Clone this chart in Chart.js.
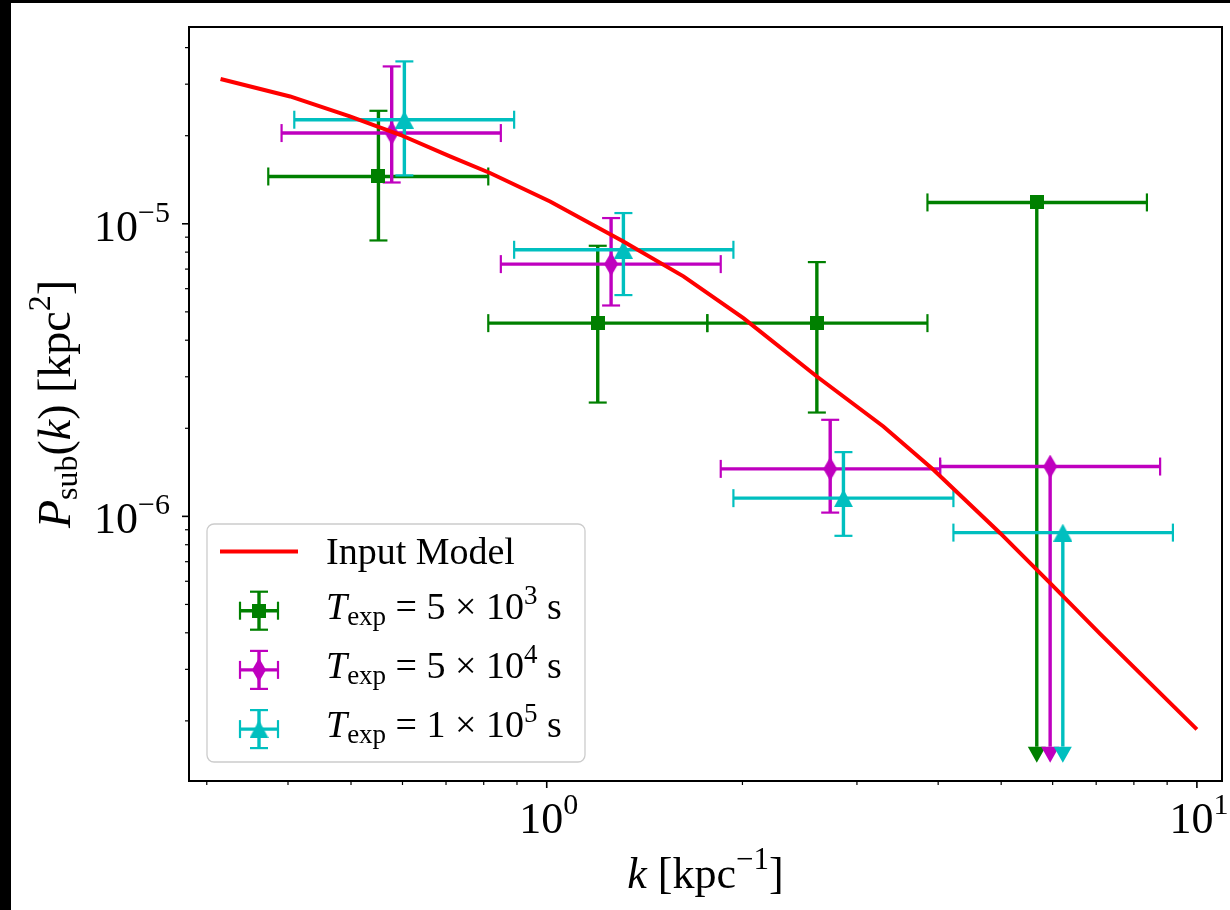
<!DOCTYPE html>
<html lang="en">
<head>
  <meta charset="UTF-8">
  <title>Subhalo power spectrum</title>
  <script src="https://cdn.jsdelivr.net/npm/chart.js@4.4.1/dist/chart.umd.min.js"></script>
  <style>
    html, body { margin: 0; padding: 0; background: #000; overflow: hidden; }
    #frame { position: absolute; left: 11px; top: 3px; width: 1219px; height: 907px; background: #fff; }
  </style>
</head>
<body>
  <div id="frame"><canvas id="psChart"></canvas></div>

  <script>
    // Input model P_sub(k)
    const modelK = [0.315, 0.403, 0.498, 0.595, 0.710, 0.818, 1.012, 1.312, 1.623, 2.007, 2.603, 3.295, 3.934, 4.983, 5.947, 7.099, 10.0];
    const modelP = [3.124e-5, 2.724e-5, 2.327e-5, 2.015e-5, 1.699e-5, 1.491e-5, 1.192e-5, 8.70e-6, 6.61e-6, 4.76e-6, 3.006e-6, 2.028e-6, 1.442e-6, 8.76e-7, 5.91e-7, 3.965e-7, 1.87e-7];

    // T_exp = 5e3 s  (null errors -> upper limit)
    const k5e3   = [0.551, 1.198, 2.603, 5.672];
    const kLo5e3 = [0.373, 0.813, 1.766, 3.851];
    const kHi5e3 = [0.813, 1.766, 3.851, 8.378];
    const p5e3   = [1.451e-5, 4.575e-6, 4.575e-6, 1.183e-5];
    const pLo5e3 = [8.77e-6, 2.449e-6, 2.264e-6, null];
    const pHi5e3 = [2.433e-5, 8.41e-6, 7.396e-6, null];

    // T_exp = 5e4 s
    const k5e4   = [0.5775, 1.256, 2.729, 5.947];
    const kLo5e4 = [0.391, 0.850, 1.852, 4.028];
    const kHi5e4 = [0.850, 1.852, 4.028, 8.779];
    const p5e4   = [2.042e-5, 7.28e-6, 1.453e-6, 1.480e-6];
    const pLo5e4 = [1.384e-5, 5.257e-6, 1.030e-6, null];
    const pHi5e4 = [3.450e-5, 1.046e-5, 2.138e-6, null];

    // T_exp = 1e5 s
    const k1e5   = [0.604, 1.312, 2.860, 6.22];
    const kLo1e5 = [0.409, 0.891, 1.937, 4.222];
    const kHi1e5 = [0.891, 1.937, 4.222, 9.186];
    const p1e5   = [2.268e-5, 8.15e-6, 1.154e-6, 8.80e-7];
    const pLo1e5 = [1.463e-5, 5.706e-6, 8.58e-7, null];
    const pHi1e5 = [3.589e-5, 1.088e-5, 1.658e-6, null];

    // lower end of the upper-limit bars
    const limitFloor = 1.633e-7;

    // axis ticks and limits
    const xMajor = [1, 10];
    const xMajorExp = ['0', '1'];
    const yMajor = [1e-6, 1e-5];
    const yMajorExp = ['\u22126', '\u22125'];
    const xMin = 0.2817, xMax = 10.93;
    const yMin = 1.246e-7, yMax = 4.705e-5;

    const texpMantissa = ['5', '5', '1'];
    const texpPower = ['3', '4', '5'];

    const GREEN = '#008000', MAGENTA = '#bf00bf', CYAN = '#00bfbf', RED = '#ff0000';
    const SERIF = '"Liberation Serif", "DejaVu Serif", serif';
    const BAR_W = 3.4, CAP_W = 2.2;

    function marker(w, h, color, shape) {
      const c = document.createElement('canvas');
      c.width = w; c.height = h;
      const g = c.getContext('2d');
      g.fillStyle = color;
      g.beginPath();
      if (shape === 'square') {
        g.rect(0, 0, w, h);
      } else if (shape === 'diamond') {
        g.moveTo(w / 2, 0); g.lineTo(w, h / 2); g.lineTo(w / 2, h); g.lineTo(0, h / 2);
      } else {
        g.moveTo(w / 2, 0); g.lineTo(w, h); g.lineTo(0, h);
      }
      g.closePath();
      g.fill();
      return c;
    }

    const series = [
      { k: k5e3, kLo: kLo5e3, kHi: kHi5e3, p: p5e3, pLo: pLo5e3, pHi: pHi5e3, color: GREEN, img: marker(14, 14, GREEN, 'square') },
      { k: k5e4, kLo: kLo5e4, kHi: kHi5e4, p: p5e4, pLo: pLo5e4, pHi: pHi5e4, color: MAGENTA, img: marker(14, 24, MAGENTA, 'diamond') },
      { k: k1e5, kLo: kLo1e5, kHi: kHi1e5, p: p1e5, pLo: pLo1e5, pHi: pHi1e5, color: CYAN, img: marker(19, 18, CYAN, 'triangle') }
    ];

    function fontOf(r) {
      return (r.it ? 'italic ' : '') + r.s + 'px ' + SERIF;
    }

    // draws a list of text runs (used for sub/superscripts)
    function drawRuns(ctx, runs, x, y, align) {
      let w = 0;
      for (const r of runs) { ctx.font = fontOf(r); w += ctx.measureText(r.t).width; }
      let cx = align === 'center' ? x - w / 2 : (align === 'right' ? x - w : x);
      ctx.textAlign = 'left';
      ctx.textBaseline = 'alphabetic';
      for (const r of runs) {
        ctx.font = fontOf(r);
        ctx.fillText(r.t, cx, y + (r.dy || 0));
        cx += ctx.measureText(r.t).width;
      }
    }

    function line(ctx, x1, y1, x2, y2) {
      ctx.beginPath(); ctx.moveTo(x1, y1); ctx.lineTo(x2, y2); ctx.stroke();
    }

    function drawDownArrow(ctx, x, y, color) {
      ctx.fillStyle = color;
      ctx.beginPath();
      ctx.moveTo(x - 9, y); ctx.lineTo(x + 9, y); ctx.lineTo(x, y + 16);
      ctx.closePath();
      ctx.fill();
    }

    // x and y error bars, drawn underneath the markers
    const errorBars = {
      id: 'errorBars',
      beforeDatasetsDraw(chart) {
        const { ctx, chartArea: a, scales: { x, y } } = chart;
        ctx.save();
        ctx.beginPath(); ctx.rect(a.left, a.top, a.right - a.left, a.bottom - a.top); ctx.clip();
        for (const s of series) {
          ctx.strokeStyle = s.color;
          for (let i = 0; i < s.k.length; i++) {
            const px = x.getPixelForValue(s.k[i]);
            const py = y.getPixelForValue(s.p[i]);
            const xl = x.getPixelForValue(s.kLo[i]);
            const xh = x.getPixelForValue(s.kHi[i]);
            ctx.lineWidth = BAR_W;
            line(ctx, xl, py, xh, py);
            if (s.pLo[i] !== null) {
              const yl = y.getPixelForValue(s.pLo[i]);
              const yh = y.getPixelForValue(s.pHi[i]);
              line(ctx, px, yl, px, yh);
              ctx.lineWidth = CAP_W;
              line(ctx, px - 9, yl, px + 9, yl);
              line(ctx, px - 9, yh, px + 9, yh);
            } else {
              const yf = y.getPixelForValue(limitFloor);
              line(ctx, px, py, px, yf);
              drawDownArrow(ctx, px, yf, s.color);
            }
            ctx.lineWidth = CAP_W;
            line(ctx, xl, py - 9, xl, py + 9);
            line(ctx, xh, py - 9, xh, py + 9);
          }
        }
        ctx.restore();
      }
    };

    function minorTicks(lo, hi) {
      const out = [];
      for (let d = Math.floor(Math.log10(lo)); d <= Math.ceil(Math.log10(hi)); d++) {
        for (let m = 2; m <= 9; m++) {
          const v = m * Math.pow(10, d);
          if (v >= lo && v <= hi) out.push(v);
        }
      }
      return out;
    }

    // frame, ticks, tick labels and axis titles
    const axesFrame = {
      id: 'axesFrame',
      afterDatasetsDraw(chart) {
        const { ctx, chartArea: a, scales: { x, y } } = chart;
        ctx.save();
        ctx.strokeStyle = '#000';
        ctx.fillStyle = '#000';

        ctx.lineWidth = 1.2;
        for (const v of minorTicks(xMin, xMax)) {
          const px = x.getPixelForValue(v);
          line(ctx, px, a.bottom, px, a.bottom + 4);
        }
        for (const v of minorTicks(yMin, yMax)) {
          const py = y.getPixelForValue(v);
          line(ctx, a.left - 4, py, a.left, py);
        }
        ctx.lineWidth = 1.6;
        xMajor.forEach((v, i) => {
          const px = x.getPixelForValue(v);
          line(ctx, px, a.bottom, px, a.bottom + 7);
          drawRuns(ctx, [{ t: '10', s: 44 }, { t: xMajorExp[i], s: 30, dy: -19 }], px + 2, a.bottom + 52, 'center');
        });
        yMajor.forEach((v, i) => {
          const py = y.getPixelForValue(v);
          line(ctx, a.left - 7, py, a.left, py);
          drawRuns(ctx, [{ t: '10', s: 44 }, { t: yMajorExp[i], s: 30, dy: -19 }], a.left - 19, py + 17, 'right');
        });

        ctx.lineWidth = 2;
        ctx.strokeRect(a.left, a.top, a.right - a.left, a.bottom - a.top);

        // axis titles
        drawRuns(ctx, [
          { t: 'k', s: 44, it: true }, { t: ' [kpc', s: 44 },
          { t: '\u22121', s: 31, dy: -19 }, { t: ']', s: 44 }
        ], (a.left + a.right) / 2, a.bottom + 107, 'center');

        ctx.translate(a.left - 119, (a.top + a.bottom) / 2);
        ctx.rotate(-Math.PI / 2);
        drawRuns(ctx, [
          { t: 'P', s: 46, it: true }, { t: 'sub', s: 32, dy: 7 },
          { t: '(', s: 46 }, { t: 'k', s: 46, it: true }, { t: ') [kpc', s: 46 },
          { t: '2', s: 32, dy: -20 }, { t: ']', s: 46 }
        ], 0, 0, 'center');
        ctx.restore();
      }
    };

    function errorSymbol(ctx, cx, cy, s) {
      ctx.strokeStyle = s.color;
      ctx.lineWidth = BAR_W;
      line(ctx, cx - 19, cy, cx + 19, cy);
      line(ctx, cx, cy - 19, cx, cy + 19);
      ctx.lineWidth = CAP_W;
      line(ctx, cx - 19, cy - 9, cx - 19, cy + 9);
      line(ctx, cx + 19, cy - 9, cx + 19, cy + 9);
      line(ctx, cx - 9, cy - 19, cx + 9, cy - 19);
      line(ctx, cx - 9, cy + 19, cx + 9, cy + 19);
      ctx.drawImage(s.img, cx - s.img.width / 2, cy - s.img.height / 2);
    }

    // legend, lower left
    const legendBox = {
      id: 'legendBox',
      afterDraw(chart) {
        const { ctx, chartArea: a } = chart;
        const w = 378, h = 238;
        const lx = a.left + 18, ly = a.bottom - 19 - h;
        ctx.save();
        ctx.fillStyle = 'rgba(255,255,255,0.8)';
        ctx.strokeStyle = '#cccccc';
        ctx.lineWidth = 1.3;
        ctx.beginPath();
        ctx.roundRect(lx, ly, w, h, 7);
        ctx.fill();
        ctx.stroke();

        const symX = lx + 52, textX = lx + 119;
        let rowY = ly + 27.4;
        ctx.strokeStyle = RED;
        ctx.lineWidth = 4;
        line(ctx, lx + 13, rowY, lx + 91, rowY);
        ctx.fillStyle = '#000';
        drawRuns(ctx, [{ t: 'Input Model', s: 38 }], textX, rowY + 12.5, 'left');

        series.forEach((s, i) => {
          rowY = ly + 86.7 + i * 59.2;
          errorSymbol(ctx, symX, rowY, s);
          ctx.fillStyle = '#000';
          drawRuns(ctx, [
            { t: 'T', s: 38, it: true }, { t: 'exp', s: 27, dy: 6 },
            { t: ' = ' + texpMantissa[i] + ' \u00d7 10', s: 38 },
            { t: texpPower[i], s: 27, dy: -15 }, { t: ' s', s: 38 }
          ], textX, rowY + 8, 'left');
        });
        ctx.restore();
      }
    };

    const datasets = [{
      type: 'line',
      label: 'Input Model',
      data: modelK.map((k, i) => ({ x: k, y: modelP[i] })),
      borderColor: RED,
      borderWidth: 4,
      pointRadius: 0,
      showLine: true,
      tension: 0,
      fill: false,
      order: 0
    }];
    series.forEach((s, i) => {
      datasets.push({
        type: 'scatter',
        label: 'T_exp ' + texpMantissa[i] + 'e' + texpPower[i],
        data: s.k.map((k, j) => ({ x: k, y: s.p[j] })),
        pointStyle: s.img,
        pointRadius: 7,
        showLine: false,
        order: 3 - i
      });
    });

    new Chart(document.getElementById('psChart'), {
      type: 'scatter',
      data: { datasets },
      options: {
        responsive: true,
        maintainAspectRatio: false,
        animation: false,
        events: [],
        layout: { padding: { left: 178, top: 24, right: 8, bottom: 129 } },
        scales: {
          x: { type: 'logarithmic', min: xMin, max: xMax, display: false },
          y: { type: 'logarithmic', min: yMin, max: yMax, display: false }
        },
        plugins: { legend: { display: false }, tooltip: { enabled: false } }
      },
      plugins: [errorBars, axesFrame, legendBox]
    });
  </script>
</body>
</html>
